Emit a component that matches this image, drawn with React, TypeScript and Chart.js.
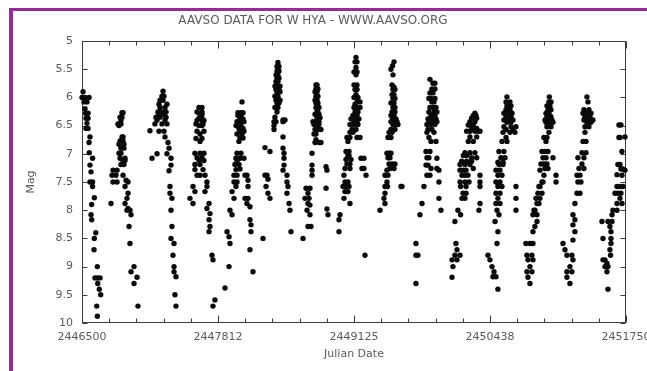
import { useEffect, useRef } from "react";
import { Chart, registerables } from "chart.js";

Chart.register(...registerables);

const TITLE = "AAVSO DATA FOR W HYA - WWW.AAVSO.ORG";
const X_TITLE = "Julian Date";
const Y_TITLE = "Mag";

const JD_START = 2446500;
const JD_END = 2451750;
const xTickValues = [2446500, 2447812.5, 2449125, 2450437.5, 2451750];
const xTickLabels = ["2446500", "2447812", "2449125", "2450438", "2451750"];
const xMinorStep = 262.5;
const yTickValues = [5, 5.5, 6, 6.5, 7, 7.5, 8, 8.5, 9, 9.5, 10];
const yTickLabels = ["5", "5.5", "6", "6.5", "7", "7.5", "8", "8.5", "9", "9.5", "10"];

// Observations: [days since JD 2446500, visual magnitude]
const cycleA: [number, number][] = [
  [10, 5.9], [0, 6.0], [29, 6.0], [68, 6.0], [19, 6.08], [48, 6.08], [29, 6.2], [35, 6.28], [58, 6.28],
  [39, 6.37], [58, 6.37], [48, 6.46], [39, 6.55], [58, 6.55], [77, 6.7], [68, 6.8], [70, 6.98], [102, 7.08],
  [77, 7.2], [87, 7.32], [77, 7.5], [102, 7.5], [102, 7.58], [119, 7.78], [93, 7.9], [87, 8.08], [93, 8.17],
  [133, 8.4], [119, 8.5], [116, 8.7], [148, 9.0], [125, 9.2], [148, 9.2], [174, 9.2], [152, 9.3], [167, 9.4],
  [180, 9.5], [142, 9.7], [148, 9.88],
];
const cycleB: [number, number][] = [
  [299, 7.29], [338, 7.29], [290, 7.38], [328, 7.38], [299, 7.5], [338, 7.5], [280, 7.88],
  [386, 6.27], [396, 6.27], [367, 6.35], [386, 6.35], [376, 6.4], [347, 6.47], [376, 6.47], [357, 6.5],
  [386, 6.7], [396, 6.7], [367, 6.77], [396, 6.77], [357, 6.83], [405, 6.83], [376, 6.9], [405, 6.9],
  [357, 6.99], [376, 6.99], [367, 7.08], [415, 7.08], [396, 7.12], [415, 7.12], [376, 7.19], [405, 7.19],
  [396, 7.38], [425, 7.47], [444, 7.5], [415, 7.58], [444, 7.7],
  [434, 7.79], [415, 7.88], [444, 7.97], [434, 8.0], [463, 8.0], [473, 8.08], [454, 8.29], [463, 8.59],
  [502, 9.0], [473, 9.09], [531, 9.19], [502, 9.3], [540, 9.7],
];
const cycleC: [number, number][] = [
  [782, 5.89], [772, 5.98], [791, 5.98], [753, 6.05], [782, 6.05], [743, 6.12], [820, 6.12], [753, 6.18],
  [801, 6.18], [733, 6.26], [772, 6.26], [811, 6.26], [743, 6.3], [791, 6.3], [714, 6.35], [753, 6.35],
  [811, 6.35], [724, 6.4], [801, 6.4], [704, 6.47], [772, 6.47], [820, 6.47], [656, 6.59], [743, 6.6],
  [791, 6.6], [801, 6.7], [830, 6.8], [840, 6.9], [820, 7.0], [724, 7.0], [676, 7.08], [859, 7.08],
  [859, 7.2], [840, 7.3], [849, 7.58], [849, 7.7], [868, 7.79], [859, 8.0], [868, 8.29], [859, 8.5],
  [888, 8.59], [878, 8.8], [888, 9.0], [888, 9.09], [907, 9.18], [897, 9.5], [907, 9.7],
];
const cycleD: [number, number][] = [
  [1129, 6.18], [1158, 6.18], [1110, 6.26], [1158, 6.26], [1139, 6.3], [1158, 6.3], [1129, 6.37],
  [1158, 6.37], [1110, 6.41], [1158, 6.41], [1177, 6.41], [1100, 6.47], [1168, 6.47], [1129, 6.5],
  [1158, 6.5], [1110, 6.6], [1177, 6.6], [1139, 6.65], [1100, 6.73], [1158, 6.73], [1139, 6.78],
  [1090, 6.99], [1139, 6.99], [1177, 6.99], [1110, 7.07], [1158, 7.07], [1129, 7.12], [1177, 7.12],
  [1090, 7.19], [1139, 7.19], [1090, 7.28],
  [1110, 7.38], [1139, 7.38], [1168, 7.28], [1187, 7.38], [1071, 7.58], [1090, 7.67], [1206, 7.5],
  [1206, 7.58], [1187, 7.67], [1226, 7.88], [1206, 7.97], [1235, 8.06], [1226, 8.17], [1235, 8.29],
  [1226, 8.38], [1255, 8.8], [1264, 8.88], [1283, 9.59], [1264, 9.7], [1042, 7.79], [1071, 7.88],
];
const cycleE: [number, number][] = [
  [1544, 6.08], [1505, 6.27], [1534, 6.27], [1554, 6.27], [1505, 6.32], [1534, 6.32], [1525, 6.38],
  [1554, 6.38], [1496, 6.43], [1525, 6.43], [1563, 6.43], [1486, 6.5], [1534, 6.5], [1515, 6.55],
  [1554, 6.55], [1525, 6.6], [1563, 6.6], [1496, 6.65], [1544, 6.65], [1525, 6.72], [1554, 6.72],
  [1515, 6.78], [1496, 6.99], [1534, 6.99], [1486, 7.08], [1525, 7.08], [1563, 7.08], [1496, 7.12],
  [1476, 7.19], [1515, 7.19], [1525, 7.27],
  [1486, 7.28], [1467, 7.38], [1496, 7.38], [1467, 7.5], [1496, 7.5], [1486, 7.58],
  [1448, 7.67], [1467, 7.79], [1428, 8.0], [1448, 8.08], [1400, 8.38], [1419, 8.47], [1428, 8.59],
  [1419, 9.0], [1380, 9.38], [1573, 7.38], [1592, 7.38], [1602, 7.47], [1602, 7.58], [1573, 7.79],
  [1602, 7.79], [1592, 7.88], [1621, 7.94], [1621, 8.17], [1631, 8.26], [1631, 8.38], [1621, 8.7],
  [1650, 9.09],
];
const cycleF: [number, number][] = [
  [1891, 5.38], [1882, 5.45], [1901, 5.45], [1882, 5.53], [1901, 5.53], [1872, 5.6], [1891, 5.6],
  [1882, 5.66], [1901, 5.66], [1872, 5.72], [1891, 5.72], [1862, 5.8], [1882, 5.8], [1911, 5.8],
  [1872, 5.86], [1901, 5.86], [1882, 5.9], [1911, 5.9], [1862, 5.98], [1891, 5.98], [1872, 6.05],
  [1911, 6.05], [1882, 6.1], [1901, 6.1], [1862, 6.18], [1891, 6.18], [1882, 6.26], [1862, 6.35],
  [1940, 6.4], [1959, 6.4], [1853, 6.43], [1872, 6.43], [1940, 6.43], [1853, 6.5], [1853, 6.57],
  [1940, 6.7], [1766, 6.89], [1814, 6.96], [1940, 6.9], [1950, 6.99], [1950, 7.08], [1950, 7.2],
  [1785, 7.38], [1940, 7.29], [1766, 7.38], [1795, 7.45], [1776, 7.58], [1795, 7.7],
  [1814, 7.79], [1747, 8.5], [1978, 7.38], [1978, 7.5], [1988, 7.58], [1978, 7.7], [1998, 7.88],
  [2007, 8.0], [2017, 8.38],
];
const cycleG: [number, number][] = [
  [2258, 5.78], [2268, 5.78], [2258, 5.85], [2277, 5.85], [2249, 5.9], [2268, 5.9], [2258, 5.98],
  [2277, 5.98], [2249, 6.05], [2268, 6.05], [2258, 6.1], [2277, 6.1], [2258, 6.18], [2287, 6.18],
  [2268, 6.26], [2277, 6.26], [2249, 6.3], [2287, 6.3], [2268, 6.36], [2297, 6.36], [2229, 6.43],
  [2258, 6.43], [2277, 6.43], [2287, 6.43], [2239, 6.48], [2268, 6.48], [2287, 6.48], [2249, 6.57],
  [2277, 6.57], [2306, 6.57], [2239, 6.65], [2258, 6.65], [2258, 6.75], [2249, 6.8], [2287, 6.8],
  [2306, 6.8], [2220, 6.99], [2220, 7.2], [2220, 7.29], [2220, 7.38], [2355, 7.23], [2364, 7.29],
  [2162, 7.61], [2200, 7.61], [2181, 7.7], [2152, 7.79], [2191, 7.79], [2181, 7.88], [2200, 7.91],
  [2172, 8.0], [2200, 8.08], [2181, 8.29], [2210, 8.29], [2133, 8.5], [2355, 7.61], [2364, 7.98],
  [2374, 8.08],
];
const cycleH: [number, number][] = [
  [2644, 5.29], [2635, 5.37], [2654, 5.37], [2644, 5.47], [2625, 5.55], [2654, 5.55], [2644, 5.6],
  [2625, 5.78], [2654, 5.78], [2635, 5.86], [2654, 5.86], [2644, 5.95], [2625, 6.0], [2663, 6.0],
  [2654, 6.08], [2683, 6.08], [2635, 6.12], [2625, 6.18], [2654, 6.18], [2683, 6.18], [2635, 6.26],
  [2663, 6.26], [2615, 6.32], [2654, 6.32], [2596, 6.38], [2635, 6.38], [2673, 6.38], [2625, 6.43],
  [2654, 6.43], [2586, 6.48], [2625, 6.48], [2663, 6.48], [2606, 6.57], [2644, 6.57], [2586, 6.62],
  [2615, 6.62], [2557, 6.71], [2586, 6.71], [2654, 6.71], [2683, 6.71], [2567, 6.78], [2548, 6.96],
  [2577, 6.96], [2567, 7.03], [2577, 7.03], [2548, 7.1], [2596, 7.1], [2692, 7.08], [2721, 7.08],
  [2557, 7.18], [2586, 7.18], [2538, 7.26], [2586, 7.26], [2702, 7.26], [2721, 7.26],
  [2528, 7.38], [2538, 7.5], [2567, 7.5],
  [2519, 7.58], [2548, 7.58], [2577, 7.58], [2538, 7.67], [2567, 7.67], [2528, 7.79], [2586, 7.88],
  [2490, 8.08], [2480, 8.17], [2480, 8.38], [2741, 7.38], [2731, 8.8],
];
const cycleI: [number, number][] = [
  [3011, 5.37], [2997, 5.44], [2982, 5.5], [3001, 5.6], [2992, 5.78], [3011, 5.82], [3001, 5.86],
  [3020, 5.86], [2992, 5.95], [3011, 5.95], [3001, 6.02], [3020, 6.02], [2982, 6.1], [3011, 6.1],
  [3001, 6.18], [3020, 6.18], [2992, 6.26], [3020, 6.26], [2982, 6.32], [3011, 6.32], [2997, 6.38],
  [3030, 6.38], [2982, 6.43], [3016, 6.43], [3040, 6.43], [3001, 6.48], [3030, 6.48], [3049, 6.48],
  [2982, 6.57], [3020, 6.57], [2963, 6.62], [2992, 6.62], [2953, 6.71], [2982, 6.71], [2943, 6.99],
  [2963, 6.99], [2982, 6.99], [2953, 7.07], [2972, 7.07], [2963, 7.18], [2992, 7.18], [3020, 7.18],
  [2972, 7.26], [3011, 7.26], [2943, 7.29], [2924, 7.38],
  [2953, 7.38], [2943, 7.5], [2924, 7.58], [2948, 7.58], [2924, 7.7], [2914, 7.79], [2924, 7.88],
  [2876, 8.0], [3078, 7.58], [3088, 7.58],
];
const cycleJ: [number, number][] = [
  [3358, 5.68], [3387, 5.75], [3406, 5.75], [3377, 5.85], [3406, 5.85], [3358, 5.92], [3387, 5.92],
  [3348, 6.02], [3368, 6.02], [3406, 6.02], [3377, 6.08], [3397, 6.08], [3358, 6.18], [3387, 6.18],
  [3416, 6.18], [3348, 6.26], [3397, 6.26], [3425, 6.26], [3368, 6.32], [3406, 6.32], [3339, 6.38],
  [3377, 6.38], [3416, 6.38], [3348, 6.43], [3397, 6.43], [3425, 6.43], [3329, 6.48], [3368, 6.48],
  [3406, 6.48], [3339, 6.57], [3377, 6.57], [3329, 6.62], [3397, 6.62], [3348, 6.71], [3368, 6.78],
  [3416, 6.78], [3320, 6.96], [3358, 6.96], [3329, 7.07], [3348, 7.07], [3425, 7.08], [3320, 7.2],
  [3339, 7.2], [3368, 7.26], [3425, 7.26], [3329, 7.38], [3358, 7.38], [3223, 8.59],
  [3223, 8.8], [3242, 8.8], [3223, 9.3], [3261, 8.08], [3281, 7.88], [3300, 7.58],
  [3445, 7.29], [3445, 7.5], [3464, 8.0], [3445, 7.79],
];
const cycleK: [number, number][] = [
  [3792, 6.28], [3776, 6.32], [3802, 6.32], [3760, 6.37], [3809, 6.37], [3744, 6.43], [3792, 6.43],
  [3728, 6.49], [3776, 6.49], [3760, 6.55], [3809, 6.55], [3841, 6.6], [3712, 6.6], [3744, 6.6],
  [3792, 6.6], [3825, 6.6], [3744, 6.7], [3809, 6.7], [3728, 6.78], [3776, 6.78], [3696, 6.98],
  [3744, 6.98], [3792, 6.98], [3680, 7.03], [3712, 7.03], [3760, 7.07], [3809, 7.07], [3664, 7.13],
  [3712, 7.13], [3760, 7.13], [3648, 7.19], [3696, 7.19], [3744, 7.19], [3776, 7.26],
  [3648, 7.29], [3677, 7.29], [3706, 7.29], [3667, 7.38], [3696, 7.38], [3725, 7.38], [3648, 7.5],
  [3696, 7.5], [3735, 7.5], [3654, 7.58], [3706, 7.58], [3677, 7.7], [3706, 7.7], [3667, 7.79],
  [3696, 7.79], [3841, 7.38], [3841, 7.5], [3841, 7.58], [3841, 7.88], [3831, 8.0], [3628, 8.0],
  [3654, 8.08], [3599, 8.2], [3609, 8.59], [3619, 8.7], [3599, 8.8], [3571, 8.88], [3619, 8.88],
  [3648, 8.8], [3580, 9.0], [3571, 9.19],
];
const cycleL: [number, number][] = [
  [4101, 5.99], [4092, 6.08], [4130, 6.08], [4101, 6.15], [4140, 6.15], [4092, 6.22], [4130, 6.22],
  [4072, 6.28], [4121, 6.28], [4150, 6.28], [4092, 6.34], [4140, 6.34], [4072, 6.4], [4121, 6.4],
  [4159, 6.4], [4101, 6.44], [4140, 6.44], [4072, 6.52], [4140, 6.52], [4188, 6.52], [4092, 6.57],
  [4159, 6.57], [4063, 6.62], [4130, 6.62], [4178, 6.62], [4092, 6.71], [4053, 6.78], [4101, 6.78],
  [4024, 6.96], [4072, 6.96], [4043, 7.07], [4082, 7.07], [4014, 7.15], [4063, 7.15], [4024, 7.19],
  [4063, 7.19], [3995, 7.29],
  [4034, 7.29], [4014, 7.38], [4053, 7.38], [3995, 7.5], [4034, 7.5], [4014, 7.58], [4053, 7.58],
  [3995, 7.7], [4034, 7.7], [4014, 7.79], [3995, 7.88], [4034, 7.88], [4005, 8.0], [4024, 8.08],
  [3986, 8.2], [4014, 8.38], [4005, 8.59], [3918, 8.8], [3937, 8.88], [3957, 9.0], [3976, 9.09],
  [3966, 9.18], [3995, 9.18], [4014, 9.4], [4188, 7.58], [4188, 7.79], [4188, 8.0],
];
const cycleM: [number, number][] = [
  [4510, 5.99], [4506, 6.08], [4526, 6.08], [4487, 6.15], [4516, 6.15], [4497, 6.22], [4526, 6.22],
  [4478, 6.28], [4506, 6.28], [4487, 6.34], [4526, 6.34], [4468, 6.4], [4497, 6.4], [4535, 6.4],
  [4478, 6.44], [4506, 6.44], [4545, 6.44], [4487, 6.52], [4526, 6.52], [4506, 6.62], [4458, 6.71],
  [4487, 6.71], [4478, 6.78], [4439, 6.96], [4468, 6.96], [4497, 6.96], [4545, 7.07], [4449, 7.07],
  [4478, 7.07], [4429, 7.18], [4458, 7.18], [4487, 7.18], [4468, 7.26], [4497, 7.26],
  [4458, 7.38], [4439, 7.5], [4420, 7.58], [4400, 7.7], [4420, 7.79],
  [4391, 7.88], [4371, 8.0], [4352, 8.08], [4391, 8.2], [4371, 8.29], [4352, 8.38], [4284, 8.59],
  [4323, 8.59], [4352, 8.59], [4294, 8.8], [4342, 8.8], [4304, 8.88], [4352, 8.88], [4323, 9.0],
  [4294, 9.09], [4342, 9.09], [4304, 9.19], [4323, 9.3], [4575, 7.38], [4575, 7.5], [4420, 7.29],
  [4449, 7.5], [4410, 7.58], [4439, 7.7], [4381, 7.79], [4410, 7.88], [4362, 8.0], [4391, 8.08],
];
const cycleN: [number, number][] = [
  [4873, 5.99], [4883, 6.08], [4844, 6.22], [4892, 6.22], [4835, 6.28], [4873, 6.28], [4912, 6.28],
  [4854, 6.34], [4902, 6.34], [4844, 6.4], [4883, 6.4], [4931, 6.4], [4873, 6.44], [4912, 6.44],
  [4854, 6.52], [4892, 6.52], [4854, 6.62], [4835, 6.78], [4864, 6.78], [4825, 6.98], [4864, 6.98],
  [4786, 7.07], [4844, 7.07], [4825, 7.18], [4796, 7.26], [4844, 7.26],
  [4777, 7.38], [4806, 7.38], [4815, 7.5], [4786, 7.5], [4777, 7.7],
  [4806, 7.7], [4757, 7.88], [4738, 8.08], [4757, 8.17], [4738, 8.26], [4757, 8.38], [4738, 8.53],
  [4642, 8.59], [4661, 8.7], [4680, 8.8], [4728, 8.8], [4738, 8.88], [4709, 9.0], [4680, 9.09],
  [4728, 9.09], [4680, 9.19], [4709, 9.3],
];
const cycleO: [number, number][] = [
  [5182, 6.49], [5201, 6.49], [5240, 6.7], [5182, 6.71], [5192, 6.71], [5211, 6.96], [5172, 7.19],
  [5192, 7.19], [5201, 7.27], [5220, 7.27], [5163, 7.37], [5240, 7.29],
  [5211, 7.38], [5163, 7.58], [5192, 7.58], [5220, 7.58], [5144, 7.7], [5172, 7.7], [5201, 7.7],
  [5192, 7.79], [5163, 7.88], [5211, 7.88], [5124, 8.0], [5163, 8.0], [5115, 8.08], [5076, 8.2],
  [5115, 8.2], [5095, 8.29], [5105, 8.38], [5018, 8.2], [5028, 8.5], [5105, 8.5], [5105, 8.59],
  [5095, 8.7], [5101, 8.8], [5028, 8.88], [5047, 8.88], [5066, 8.94], [5047, 9.0], [5076, 9.0],
  [5066, 9.09], [5076, 9.4],
];

const cycles = [cycleA, cycleB, cycleC, cycleD, cycleE, cycleF, cycleG, cycleH, cycleI, cycleJ, cycleK, cycleL, cycleM, cycleN, cycleO];

const FONT = "'DejaVu Sans', sans-serif";
const TEXT_COLOR = "#5a5a5a";
const FRAME_COLOR = "#3c3c3c";
const PURPLE = "#962a98";

const framePlugin = {
  id: "gnuplotFrame",
  beforeDatasetsDraw(chart: any) {
    const { ctx, chartArea, scales } = chart;
    const x = scales.x;
    const y = scales.y;
    const l = Math.round(chartArea.left) + 0.5;
    const r = Math.round(chartArea.right) - 0.5;
    const t = Math.round(chartArea.top) + 0.5;
    const b = Math.round(chartArea.bottom) - 0.5;
    ctx.save();
    ctx.strokeStyle = FRAME_COLOR;
    ctx.lineWidth = 1;
    ctx.strokeRect(l, t, r - l, b - t);
    ctx.beginPath();
    const n = Math.round((JD_END - JD_START) / xMinorStep);
    for (let i = 0; i <= n; i++) {
      const px = Math.round(x.getPixelForValue(JD_START + i * xMinorStep)) + 0.5;
      const len = i % 5 === 0 ? 7 : 4;
      ctx.moveTo(px, b);
      ctx.lineTo(px, b - len);
      ctx.moveTo(px, t);
      ctx.lineTo(px, t + len);
    }
    for (const v of yTickValues) {
      const py = Math.round(y.getPixelForValue(v)) + 0.5;
      ctx.moveTo(l, py);
      ctx.lineTo(l + 5, py);
      ctx.moveTo(r, py);
      ctx.lineTo(r - 5, py);
    }
    ctx.stroke();
    ctx.restore();
  },
};

export default function App() {
  const ref = useRef<HTMLCanvasElement | null>(null);

  useEffect(() => {
    if (!ref.current) return;
    const points = cycles.flat().map(([d, m]) => ({ x: JD_START + d, y: m }));
    const chart = new Chart(ref.current, {
      type: "scatter",
      data: {
        datasets: [
          {
            data: points,
            backgroundColor: "#0a0a0a",
            borderWidth: 0,
            pointRadius: 2.7,
            clip: false as any,
          },
        ],
      },
      options: {
        responsive: false,
        animation: false,
        layout: { padding: { left: 0, right: 21, top: 0, bottom: 0 } },
        plugins: {
          legend: { display: false },
          tooltip: { enabled: false },
          title: {
            display: true,
            text: TITLE,
            color: TEXT_COLOR,
            font: { family: FONT, size: 12, weight: "normal" },
            padding: { top: 14, bottom: 12.6 },
          },
        },
        scales: {
          x: {
            type: "linear",
            min: JD_START,
            max: JD_END,
            grid: { display: false, drawTicks: false },
            border: { display: false },
            afterBuildTicks: (s: any) => {
              s.ticks = xTickValues.map((v) => ({ value: v }));
            },
            afterFit: (s: any) => {
              s.height = 48;
              s.paddingLeft = 0;
              s.paddingRight = 0;
            },
            ticks: {
              autoSkip: false,
              maxRotation: 0,
              padding: 8,
              color: TEXT_COLOR,
              font: { family: FONT, size: 11 },
              callback: (_v: any, i: number) => xTickLabels[i],
            },
            title: {
              display: true,
              text: X_TITLE,
              color: TEXT_COLOR,
              font: { family: FONT, size: 11 },
              padding: { top: 0, bottom: 10 },
            },
          },
          y: {
            type: "linear",
            min: 5,
            max: 10,
            reverse: true,
            grid: { display: false, drawTicks: false },
            border: { display: false },
            afterBuildTicks: (s: any) => {
              s.ticks = yTickValues.map((v) => ({ value: v }));
            },
            afterFit: (s: any) => {
              s.width = 82;
              s.paddingTop = 0;
              s.paddingBottom = 0;
            },
            ticks: {
              autoSkip: false,
              padding: 9,
              color: TEXT_COLOR,
              font: { family: FONT, size: 11 },
              callback: (_v: any, i: number) => yTickLabels[i],
            },
            title: {
              display: true,
              text: Y_TITLE,
              color: TEXT_COLOR,
              font: { family: FONT, size: 11 },
              padding: { top: 25, bottom: 0 },
            },
          },
        },
      },
      plugins: [framePlugin],
    });
    return () => chart.destroy();
  }, []);

  return (
    <div style={{ position: "absolute", left: 0, top: 0, width: 647, height: 371, background: "#fff", overflow: "hidden" }}>
      <canvas ref={ref} width={647} height={371} style={{ display: "block", position: "absolute", left: 0, top: 0 }} />
      <div style={{ position: "absolute", left: 9, top: 8, width: 4, height: 363, background: PURPLE }} />
      <div style={{ position: "absolute", left: 9, top: 8, width: 638, height: 3, background: PURPLE }} />
    </div>
  );
}
